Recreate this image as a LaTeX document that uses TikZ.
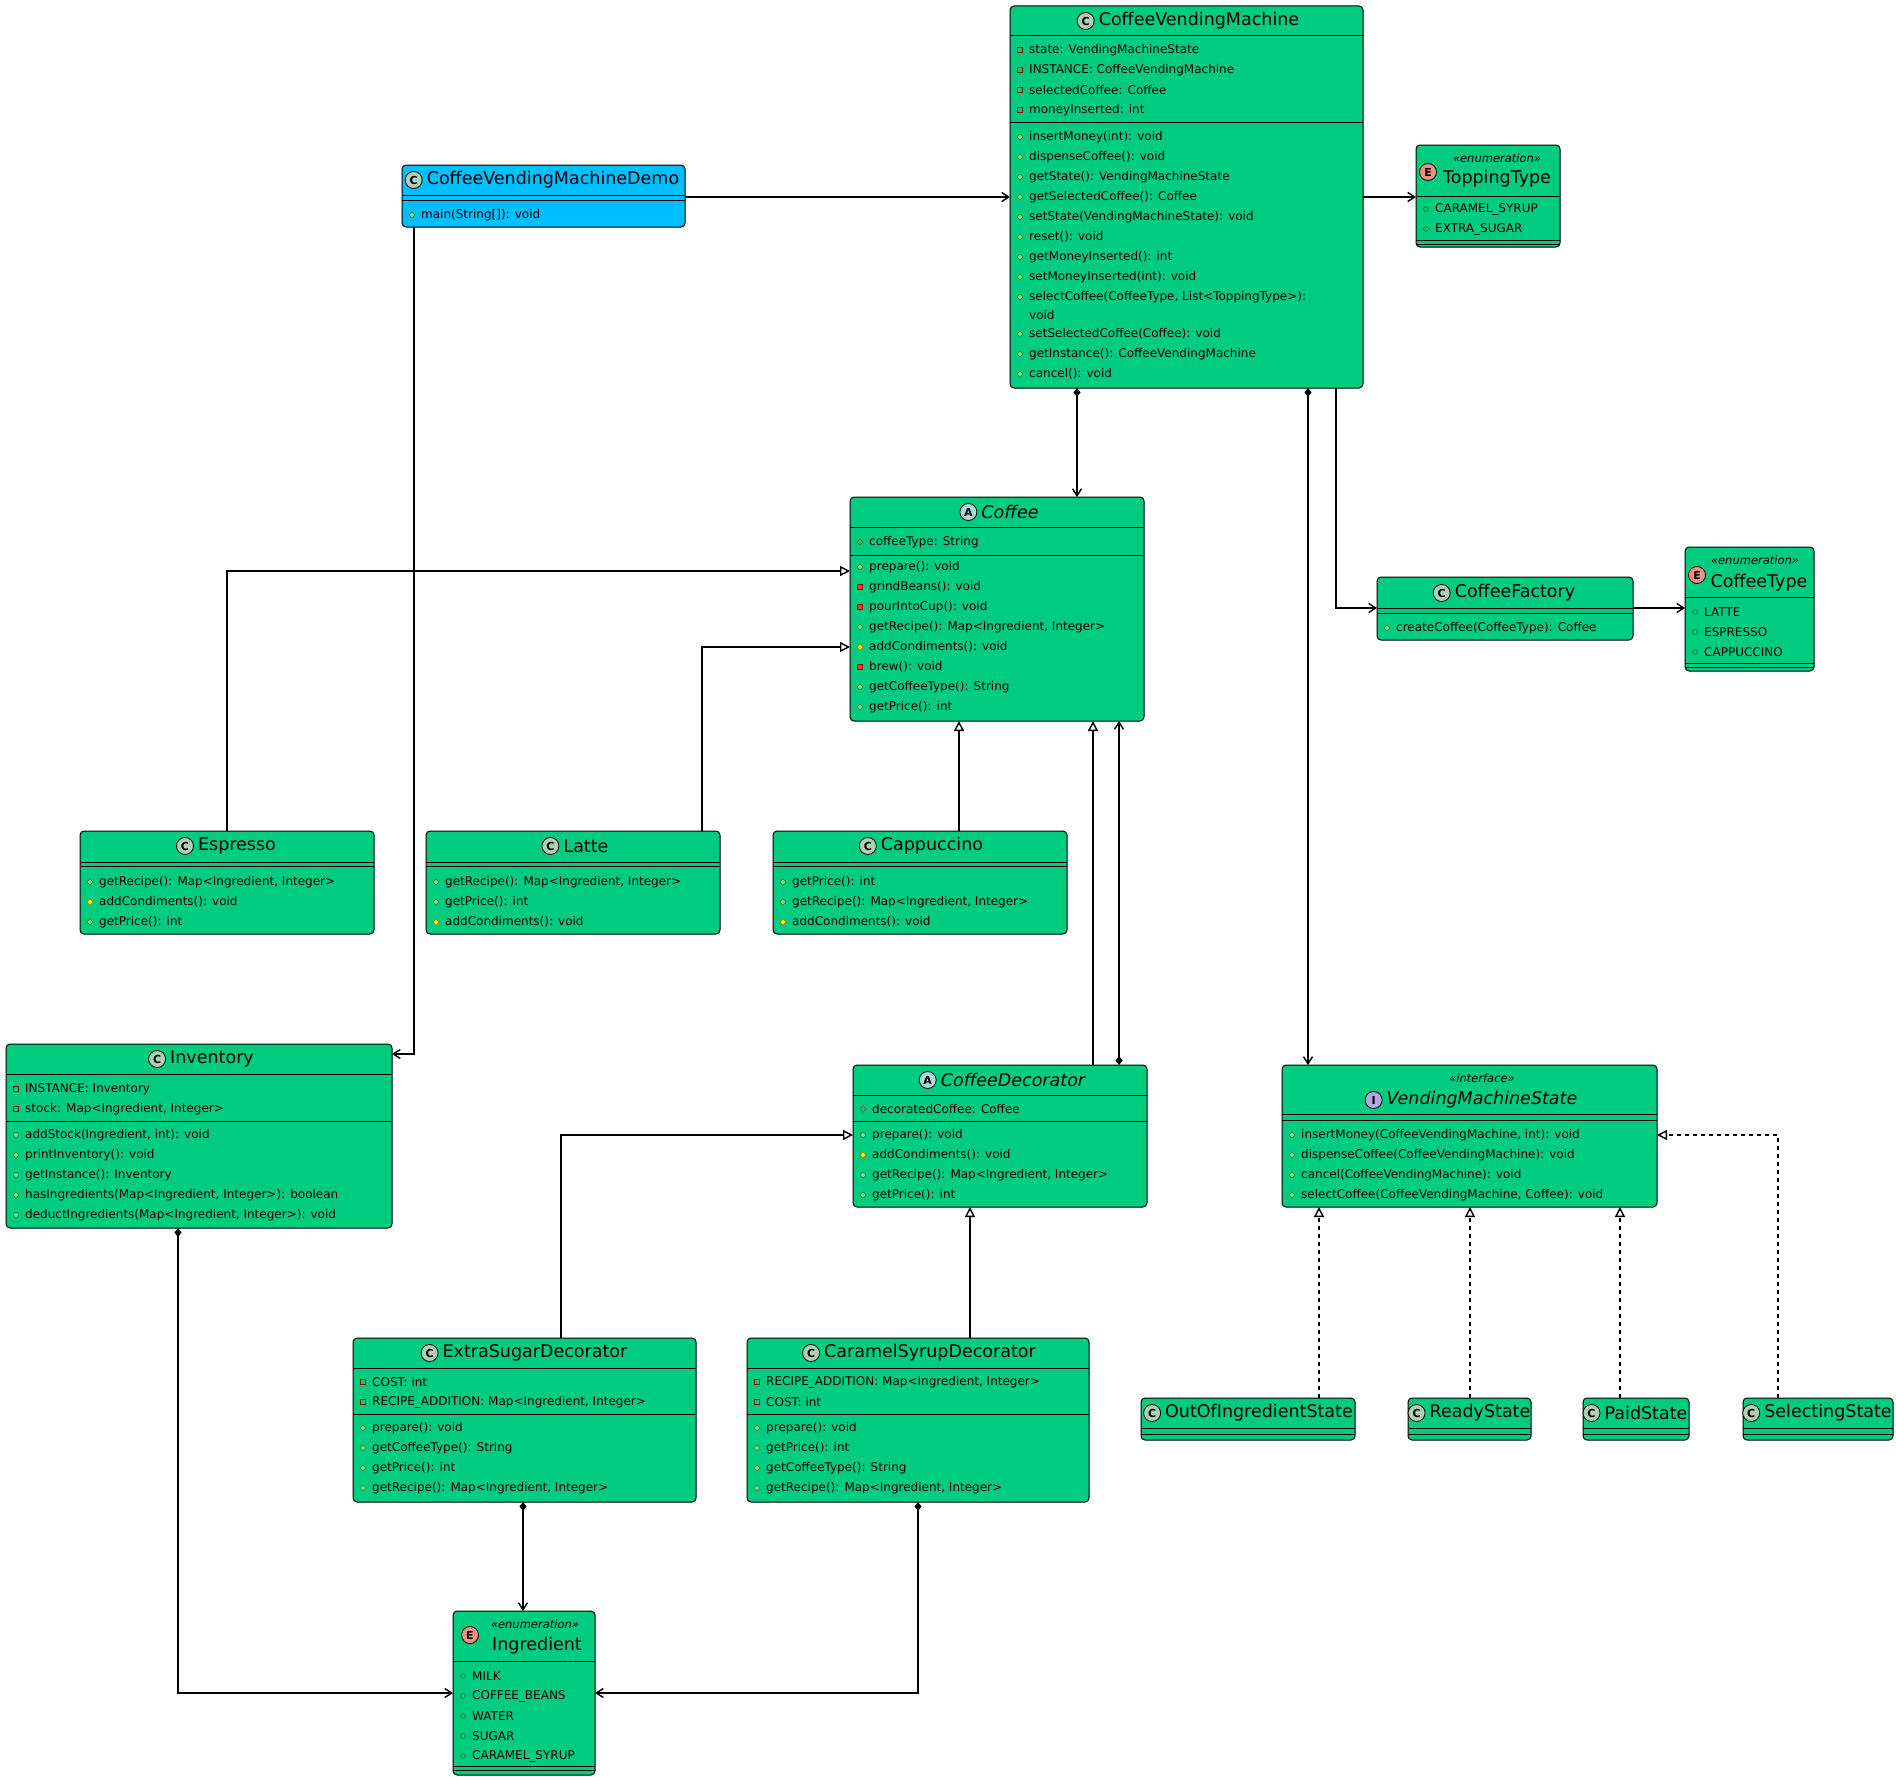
\documentclass[tikz,border=0pt]{standalone}
\usepackage{fontspec}
\setmainfont{DejaVu Sans}
\usetikzlibrary{calc,positioning,arrows.meta}
\definecolor{boxg}{HTML}{00CC80}
\definecolor{boxc}{HTML}{00BFFF}
\definecolor{icC}{HTML}{ADD1B2}
\definecolor{icA}{HTML}{A9DCDF}
\definecolor{icE}{HTML}{EB937F}
\definecolor{icI}{HTML}{B4A7E5}
\tikzset{
 x=1pt, y=-1pt,
 box/.style={draw, rounded corners=4pt, line width=1pt, anchor=north west, inner sep=0, outer sep=0},
 mem/.style={anchor=west, inner sep=0, font=\fontsize{12}{14}\selectfont},
 ttl/.style={inner sep=0, font=\fontsize{17.5}{19}\selectfont},
 ster/.style={inner sep=0, font=\fontsize{11.5}{12}\selectfont\itshape},
 hc/.style={circle, draw, line width=0.8pt, inner sep=0, minimum size=17pt, font=\fontsize{11}{12}\selectfont\bfseries},
 sepl/.style={line width=1pt},
 conn/.style={line width=1.4pt},
 ar/.style={conn, -{Straight Barb[length=7pt,width=9pt,line width=1.4pt]}},
 dar/.style={conn, {Diamond[length=9pt,width=7pt]}-{Straight Barb[length=7pt,width=9pt,line width=1.4pt]}},
 inh/.style={conn, -{Triangle[open,length=10pt,width=10pt,fill=white]}},
 real/.style={conn, dashed, dash pattern=on 4pt off 4pt, -{Triangle[open,length=10pt,width=10pt,fill=white]}},
 pubm/.pic={\filldraw[fill=green!45!gray!60, draw=green!40!black, line width=0.4pt] (0,0) circle (2.4pt);},
 pubf/.pic={\draw[green!40!black, line width=0.5pt] (0,0) circle (2.4pt);},
 privm/.pic={\filldraw[fill=red!80, draw=red!60!black, line width=0.4pt] (-2.6,-2.6) rectangle (2.6,2.6);},
 privf/.pic={\draw[red!60!black, line width=0.6pt] (-2.6,-2.6) rectangle (2.6,2.6);},
 protm/.pic={\filldraw[fill=yellow, draw=orange!70!black, line width=0.4pt] (0,-3.2) -- (3.2,0) -- (0,3.2) -- (-3.2,0) -- cycle;},
 protf/.pic={\draw[orange!60!black, line width=0.6pt] (0,-3.2) -- (3.2,0) -- (0,3.2) -- (-3.2,0) -- cycle;},
}
% name, x1, y1, x2, y2, fill
\newcommand\ubox[6]{\node[box, fill=#6, minimum width={#4-#2}, minimum height={#5-#3}] (#1) at (#2,#3) {};}
% box, y
\newcommand\usep[2]{\draw[sepl] (#1.west |- 0,#2) -- (#1.east |- 0,#2);}
% x(left of box), y, icon, text
\newcommand\umem[4]{\pic at ({#1+10},#2) {#3}; \node[mem] at ({#1+19},#2) {#4};}
% name, x, y, letter, colour, title
\newcommand\uhead[6]{\node[ttl] (#1) at (#2,#3) {#6}; \node[hc, fill=#5, left=4pt of #1] (#1-i) {#4};}
\begin{document}
\begin{tikzpicture}
\useasboundingbox (0,0) rectangle (1896,1777);

% CoffeeVendingMachine
\ubox{cvm}{1010}{6}{1363}{388}{boxg}
\uhead{cvm-t}{1199}{21}{C}{icC}{CoffeeVendingMachine}
\usep{cvm}{36}\usep{cvm}{122}
\umem{1010}{50}{privf}{state: VendingMachineState}
\umem{1010}{70}{privf}{INSTANCE: CoffeeVendingMachine}
\umem{1010}{90}{privf}{selectedCoffee: Coffee}
\umem{1010}{110}{privf}{moneyInserted: int}
\umem{1010}{137}{pubm}{insertMoney(int): void}
\umem{1010}{157}{pubm}{dispenseCoffee(): void}
\umem{1010}{177}{pubm}{getState(): VendingMachineState}
\umem{1010}{197}{pubm}{getSelectedCoffee(): Coffee}
\umem{1010}{217}{pubm}{setState(VendingMachineState): void}
\umem{1010}{237}{pubm}{reset(): void}
\umem{1010}{257}{pubm}{getMoneyInserted(): int}
\umem{1010}{277}{pubm}{setMoneyInserted(int): void}
\umem{1010}{297}{pubm}{selectCoffee(CoffeeType, List<ToppingType>):}
\node[mem] (cvm-v) at (1029,315) {void};
\umem{1010}{334}{pubm}{setSelectedCoffee(Coffee): void}
\umem{1010}{354}{pubm}{getInstance(): CoffeeVendingMachine}
\umem{1010}{374}{pubm}{cancel(): void}

% Demo
\ubox{demo}{402}{165}{685}{227}{boxc}
\uhead{demo-t}{553}{180}{C}{icC}{CoffeeVendingMachineDemo}
\usep{demo}{195}\usep{demo}{200}
\umem{402}{215}{pubm}{main(String[]): void}

% ToppingType
\ubox{top}{1416}{145}{1560}{247}{boxg}
\node[ster] (top-s) at (1497,158) {«enumeration»};
\node[ttl] (top-t) at (1497,179) {ToppingType};
\node[hc, fill=icE] (top-i) at (1428,172) {E};
\usep{top}{196}
\umem{1416}{209}{pubf}{CARAMEL\_SYRUP}
\umem{1416}{229}{pubf}{EXTRA\_SUGAR}
\usep{top}{240}\usep{top}{244}

% Coffee
\ubox{cof}{850}{497}{1144}{721}{boxg}
\uhead{cof-t}{1010}{512}{A}{icA}{\itshape Coffee}
\usep{cof}{527}\usep{cof}{555}
\umem{850}{542}{protf}{coffeeType: String}
\umem{850}{567}{pubm}{prepare(): void}
\umem{850}{587}{privm}{grindBeans(): void}
\umem{850}{607}{privm}{pourIntoCup(): void}
\umem{850}{627}{pubm}{getRecipe(): Map<Ingredient, Integer>}
\umem{850}{647}{protm}{addCondiments(): void}
\umem{850}{667}{privm}{brew(): void}
\umem{850}{687}{pubm}{getCoffeeType(): String}
\umem{850}{707}{pubm}{getPrice(): int}

% CoffeeFactory
\ubox{fac}{1377}{577}{1633}{640}{boxg}
\uhead{fac-t}{1515}{593}{C}{icC}{CoffeeFactory}
\usep{fac}{608}\usep{fac}{613}
\umem{1377}{628}{pubm}{createCoffee(CoffeeType): Coffee}

% CoffeeType
\ubox{ct}{1685}{547}{1814}{671}{boxg}
\node[ster] (ct-s) at (1755,560) {«enumeration»};
\node[ttl] (ct-t) at (1759,583) {CoffeeType};
\node[hc, fill=icE] (ct-i) at (1697,575) {E};
\usep{ct}{597}
\umem{1685}{612}{pubf}{LATTE}
\umem{1685}{632}{pubf}{ESPRESSO}
\umem{1685}{652}{pubf}{CAPPUCCINO}
\usep{ct}{663}\usep{ct}{667}

% Espresso
\ubox{esp}{80}{831}{374}{934}{boxg}
\uhead{esp-t}{237}{846}{C}{icC}{Espresso}
\usep{esp}{862}\usep{esp}{866}
\umem{80}{882}{pubm}{getRecipe(): Map<Ingredient, Integer>}
\umem{80}{902}{protm}{addCondiments(): void}
\umem{80}{922}{pubm}{getPrice(): int}

% Latte
\ubox{lat}{426}{831}{720}{934}{boxg}
\uhead{lat-t}{586}{846}{C}{icC}{Latte}
\usep{lat}{862}\usep{lat}{866}
\umem{426}{882}{pubm}{getRecipe(): Map<Ingredient, Integer>}
\umem{426}{902}{pubm}{getPrice(): int}
\umem{426}{922}{protm}{addCondiments(): void}

% Cappuccino
\ubox{cap}{773}{831}{1067}{934}{boxg}
\uhead{cap-t}{932}{846}{C}{icC}{Cappuccino}
\usep{cap}{862}\usep{cap}{866}
\umem{773}{882}{pubm}{getPrice(): int}
\umem{773}{902}{pubm}{getRecipe(): Map<Ingredient, Integer>}
\umem{773}{922}{protm}{addCondiments(): void}

% Inventory
\ubox{inv}{6}{1044}{392}{1228}{boxg}
\uhead{inv-t}{212}{1059}{C}{icC}{Inventory}
\usep{inv}{1074}\usep{inv}{1121}
\umem{6}{1089}{privf}{INSTANCE: Inventory}
\umem{6}{1109}{privf}{stock: Map<Ingredient, Integer>}
\umem{6}{1135}{pubm}{addStock(Ingredient, int): void}
\umem{6}{1155}{pubm}{printInventory(): void}
\umem{6}{1175}{pubm}{getInstance(): Inventory}
\umem{6}{1195}{pubm}{hasIngredients(Map<Ingredient, Integer>): boolean}
\umem{6}{1215}{pubm}{deductIngredients(Map<Ingredient, Integer>): void}

% CoffeeDecorator
\ubox{dec}{853}{1065}{1147}{1207}{boxg}
\uhead{dec-t}{1013}{1080}{A}{icA}{\itshape CoffeeDecorator}
\usep{dec}{1095}\usep{dec}{1121}
\umem{853}{1109}{protf}{decoratedCoffee: Coffee}
\umem{853}{1135}{pubm}{prepare(): void}
\umem{853}{1155}{protm}{addCondiments(): void}
\umem{853}{1175}{pubm}{getRecipe(): Map<Ingredient, Integer>}
\umem{853}{1195}{pubm}{getPrice(): int}

% VendingMachineState
\ubox{vms}{1282}{1065}{1657}{1207}{boxg}
\node[ster] (vms-s) at (1482,1078) {«interface»};
\uhead{vms-t}{1482}{1100}{I}{icI}{\itshape VendingMachineState}
\usep{vms}{1114}\usep{vms}{1120}
\umem{1282}{1135}{pubm}{insertMoney(CoffeeVendingMachine, int): void}
\umem{1282}{1155}{pubm}{dispenseCoffee(CoffeeVendingMachine): void}
\umem{1282}{1175}{pubm}{cancel(CoffeeVendingMachine): void}
\umem{1282}{1195}{pubm}{selectCoffee(CoffeeVendingMachine, Coffee): void}

% ExtraSugarDecorator
\ubox{ext}{353}{1338}{696}{1502}{boxg}
\uhead{ext-t}{535}{1353}{C}{icC}{ExtraSugarDecorator}
\usep{ext}{1368}\usep{ext}{1414}
\umem{353}{1382}{privf}{COST: int}
\umem{353}{1402}{privf}{RECIPE\_ADDITION: Map<Ingredient, Integer>}
\umem{353}{1428}{pubm}{prepare(): void}
\umem{353}{1448}{pubm}{getCoffeeType(): String}
\umem{353}{1468}{pubm}{getPrice(): int}
\umem{353}{1488}{pubm}{getRecipe(): Map<Ingredient, Integer>}

% CaramelSyrupDecorator
\ubox{car}{747}{1338}{1089}{1502}{boxg}
\uhead{car-t}{930}{1353}{C}{icC}{CaramelSyrupDecorator}
\usep{car}{1368}\usep{car}{1414}
\umem{747}{1382}{privf}{RECIPE\_ADDITION: Map<Ingredient, Integer>}
\umem{747}{1402}{privf}{COST: int}
\umem{747}{1428}{pubm}{prepare(): void}
\umem{747}{1448}{pubm}{getPrice(): int}
\umem{747}{1468}{pubm}{getCoffeeType(): String}
\umem{747}{1488}{pubm}{getRecipe(): Map<Ingredient, Integer>}

% Ingredient
\ubox{ing}{453}{1611}{595}{1775}{boxg}
\node[ster] (ing-s) at (535,1624) {«enumeration»};
\node[ttl] (ing-t) at (537,1646) {Ingredient};
\node[hc, fill=icE] (ing-i) at (470,1635) {E};
\usep{ing}{1661}
\umem{453}{1676}{pubf}{MILK}
\umem{453}{1696}{pubf}{COFFEE\_BEANS}
\umem{453}{1716}{pubf}{WATER}
\umem{453}{1736}{pubf}{SUGAR}
\umem{453}{1756}{pubf}{CARAMEL\_SYRUP}
\usep{ing}{1766}\usep{ing}{1770}

% States
\ubox{s1}{1141}{1398}{1355}{1440}{boxg}
\uhead{s1-t}{1259}{1413}{C}{icC}{OutOfIngredientState}
\usep{s1}{1428}\usep{s1}{1434}
\ubox{s2}{1408}{1398}{1531}{1440}{boxg}
\uhead{s2-t}{1480}{1413}{C}{icC}{ReadyState}
\usep{s2}{1428}\usep{s2}{1434}
\ubox{s3}{1583}{1398}{1689}{1440}{boxg}
\uhead{s3-t}{1646}{1413}{C}{icC}{PaidState}
\usep{s3}{1428}\usep{s3}{1434}
\ubox{s4}{1743}{1398}{1893}{1440}{boxg}
\uhead{s4-t}{1828}{1413}{C}{icC}{SelectingState}
\usep{s4}{1428}\usep{s4}{1434}

% Connectors
\draw[ar] ($(demo.north east)+(0,32)$) -- ($(cvm.north west)+(0,191)$);
\draw[ar] ($(demo.south west)+(12,0)$) |- ($(inv.north east)+(0,10)$);
\draw[ar] ($(cvm.north east)+(0,191)$) -- ($(top.north west)+(0,52)$);
\draw[dar] ($(cvm.south west)+(67,0)$) -- ($(cof.north west)+(227,0)$);
\draw[dar] ($(cvm.south west)+(298,0)$) -- ($(vms.north west)+(26,0)$);
\draw[ar] ($(cvm.south west)+(326,0)$) |- ($(fac.north west)+(0,31)$);
\draw[ar] ($(fac.north east)+(0,31)$) -- ($(ct.north west)+(0,61)$);
\draw[inh] ($(esp.north west)+(147,0)$) |- ($(cof.north west)+(0,74)$);
\draw[inh] ($(lat.north west)+(276,0)$) |- ($(cof.north west)+(0,150)$);
\draw[inh] ($(cap.north west)+(186,0)$) -- ($(cof.south west)+(109,0)$);
\draw[inh] ($(dec.north west)+(240,0)$) -- ($(cof.south west)+(243,0)$);
\draw[dar] ($(dec.north west)+(266,0)$) -- ($(cof.south west)+(269,0)$);
\draw[inh] ($(ext.north west)+(208,0)$) |- ($(dec.north west)+(0,70)$);
\draw[inh] ($(car.north west)+(223,0)$) -- ($(dec.south west)+(117,0)$);
\draw[dar] ($(ext.south west)+(170,0)$) -- ($(ing.north west)+(70,0)$);
\draw[dar] ($(car.south west)+(171,0)$) |- ($(ing.north east)+(0,82)$);
\draw[dar] ($(inv.south west)+(172,0)$) |- ($(ing.north west)+(0,82)$);
\draw[real] ($(s1.north west)+(178,0)$) -- ($(vms.south west)+(37,0)$);
\draw[real] ($(s2.north west)+(62,0)$) -- ($(vms.south west)+(188,0)$);
\draw[real] ($(s3.north west)+(37,0)$) -- ($(vms.south west)+(338,0)$);
\draw[real] ($(s4.north west)+(35,0)$) |- ($(vms.north east)+(0,70)$);
\end{tikzpicture}
\end{document}
